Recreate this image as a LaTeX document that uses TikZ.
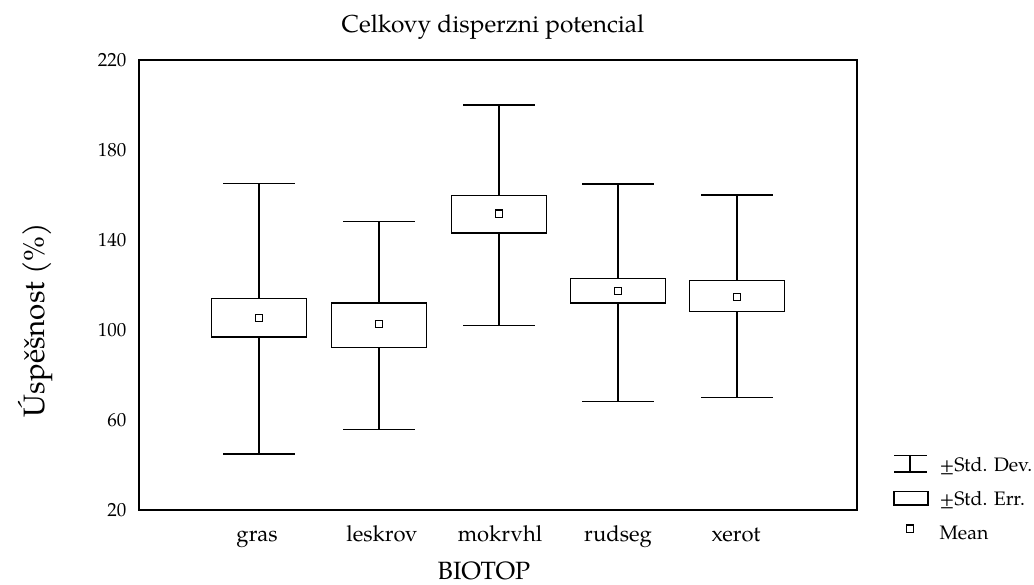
\documentclass[tikz,border=0pt]{standalone}
\usepackage{fontspec}
\setmainfont{TeX Gyre Pagella}
\usepackage{tikz}
\tikzset{
  plotline/.style={line width=1.1pt},
  meanmark/.style={draw, line width=1.3pt, minimum size=7.5pt, inner sep=0pt},
  ticklab/.style={anchor=east, font=\fontsize{19}{19}\selectfont},
  catlab/.style={anchor=base, font=\fontsize{22}{22}\selectfont},
  leglab/.style={anchor=base west, font=\fontsize{19.5}{19.5}\selectfont}
}
% #1 x, #2 -SD, #3 -SE, #4 mean, #5 +SE, #6 +SD
\newcommand{\biobox}[6]{%
  \draw [plotline] (#1-36,#2) -- (#1+36,#2);
  \draw [plotline] (#1,#2) -- (#1,#3);
  \draw [plotline] (#1-47.5,#3) rectangle (#1+47.5,#5);
  \draw [plotline] (#1,#5) -- (#1,#6);
  \draw [plotline] (#1-36,#6) -- (#1+36,#6);
  \node [meanmark] at (#1,#4) {};
}

\begin{document}
\begin{tikzpicture}[x=1pt,y=2.25pt]
\useasboundingbox (0,-13.333) rectangle (1034,246.667);
%\draw [help lines] (0,-13.333) rectangle (1034,246.667);
\draw [plotline] (139,20) rectangle (857,220);
\node [anchor=base, font=\fontsize{24.5}{24.5}\selectfont] (title) at (493,232.4) {Celkovy disperzni potencial};
\node [anchor=base, rotate=90, font=\fontsize{29.5}{29.5}\selectfont] (ylab) at (45,104.4) {Úspěšnost (\%)};
\node [anchor=base, inner sep=1pt, font=\fontsize{25}{25}\selectfont] (xlab) at (484,-10.9) {BIOTOP};
\node [ticklab] (t220) at (130,220) {220};
\node [ticklab] (t180) at (130,180) {180};
\node [ticklab] (t140) at (130,140) {140};
\node [ticklab] (t100) at (130,100) {100};
\node [ticklab] (t60) at (130,60) {60};
\node [ticklab] (t20) at (130,20) {20};
\biobox{259}{44.9}{96.9}{105.3}{113.8}{165.3}
\biobox{379}{55.6}{92.4}{102.7}{112}{148.4}
\biobox{499}{101.8}{143.1}{151.6}{159.6}{200}
\biobox{618}{68.4}{112}{117.3}{122.7}{164.9}
\biobox{737}{69.8}{108.4}{114.7}{121.8}{160}
\node [catlab] (gras) at (257,5.8) {gras};
\node [catlab] (leskrov) at (382,5.8) {leskrov};
\node [catlab] (mokrvhl) at (500,5.8) {mokrvhl};
\node [catlab] (rudseg) at (618,5.8) {rudseg};
\node [catlab] (xerot) at (736,5.8) {xerot};
% legend
\draw [plotline] (894,44.4) -- (927,44.4);
\draw [plotline] (894,36.9) -- (927,36.9);
\draw [plotline] (910,44.4) -- (910,36.9);
\draw [plotline] (894,22.2) rectangle (928,28.4);
\node [meanmark] (legmean) at (910,11.6) {};
\node [leglab] (legdev) at (936,36.9) {±Std. Dev.};
\node [leglab] (legerr) at (936,22.2) {±Std. Err.};
\node [leglab] (legmn) at (936,6.7) {Mean};
\end{tikzpicture}
\end{document}
